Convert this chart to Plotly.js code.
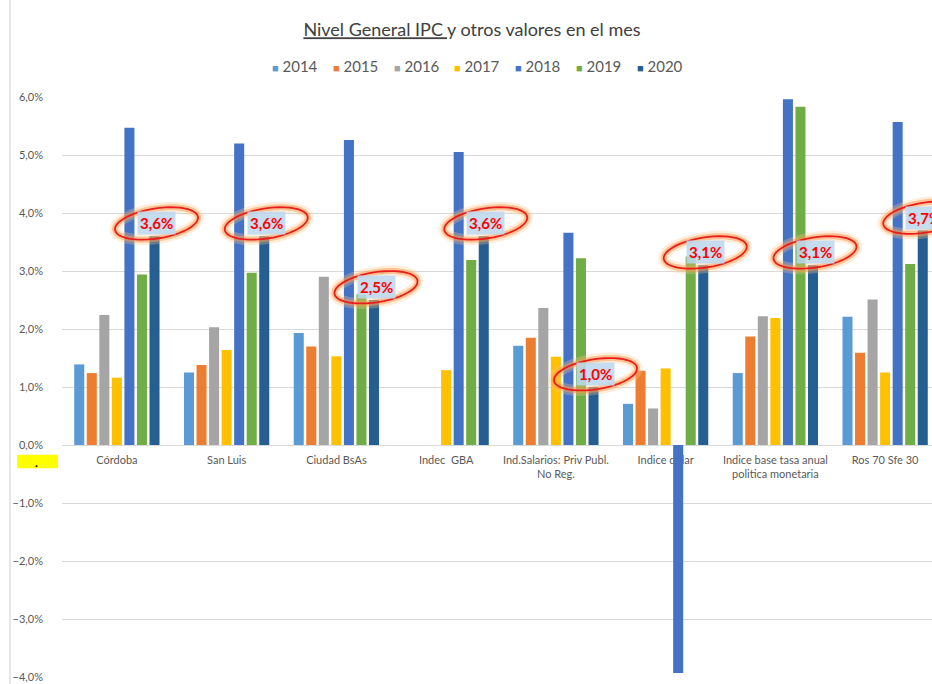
<!DOCTYPE html>
<html>
<head>
<meta charset="utf-8">
<script src="https://cdn.plot.ly/plotly-3.0.1.min.js"></script>
<style>
html,body{margin:0;padding:0;overflow:hidden;background:#fff;}
#chart{width:945px;height:684px;}
</style>
</head>
<body>
<div id="chart"></div>
<script>
const categories = ['Córdoba','San Luis','Ciudad BsAs','Indec\u00a0 GBA','Ind.Salarios: Priv Publ.<br>No Reg.','Indice dólar','Indice base tasa anual<br>politica monetaria','Ros 70 Sfe 30'];
const years = ['2014','2015','2016','2017','2018','2019','2020'];
const v2014 = [1.39,1.25,1.93,null,1.71,0.71,1.24,2.21];
const v2015 = [1.24,1.38,1.70,null,1.85,1.28,1.87,1.59];
const v2016 = [2.24,2.03,2.90,null,2.36,0.63,2.22,2.51];
const v2017 = [1.16,1.64,1.53,1.29,1.52,1.32,2.19,1.25];
const v2018 = [5.47,5.20,5.26,5.05,3.66,-3.93,5.96,5.57];
const v2019 = [2.94,2.97,2.60,3.19,3.22,3.25,5.83,3.12];
const v2020 = [3.6,3.6,2.5,3.6,1.0,3.1,3.1,3.7];
const colors = ['#5B9BD5','#ED7D31','#A5A5A5','#FFC000','#4472C4','#70AD47','#255E91'];

const series = [v2014,v2015,v2016,v2017,v2018,v2019,v2020];
const FONT = 'Lato, "Open Sans", sans-serif';

const W = 945, H = 684, ML = 62, MR = 5, MT = 97, MB = 7;
const PW = W - ML - MR, PH = H - MT - MB;

const traces = series.map((vals,i)=>({
  type:'bar', name:years[i], x:categories, y:vals,
  marker:{color:colors[i], line:{width:0}},
  hoverinfo:'skip', showlegend:false
}));

const bargap = 0.2;
const slot = (1-bargap)/years.length;
const off2020 = (6-3)*slot;

function ellipsePath(a,b,angDeg,dx){
  const t = angDeg*Math.PI/180, n=48; let d='';
  for(let k=0;k<=n;k++){
    const th = 2*Math.PI*k/n;
    const ex = a*Math.cos(th), ey = b*Math.sin(th);
    const px = ex*Math.cos(t) - ey*Math.sin(t) + dx;
    const py = ex*Math.sin(t) + ey*Math.cos(t);
    d += (k===0?'M':'L') + px.toFixed(2)+','+py.toFixed(2);
  }
  return d+'Z';
}

const shapes = [];
const annotations = [];
const ell = ellipsePath(42,15,9,2);
v2020.forEach((v,i)=>{
  const xa = i + off2020, ya = v + 0.22;
  [[11,'rgba(255,200,140,0.30)'],[6,'rgba(255,150,70,0.50)'],[1.8,'#E81E1E']].forEach(([w,c])=>{
    shapes.push({type:'path', xref:'x', yref:'y', xsizemode:'pixel', ysizemode:'pixel',
      xanchor:xa, yanchor:ya, path:ell, line:{color:c,width:w}, fillcolor:'rgba(0,0,0,0)', layer:'above'});
  });
  annotations.push({xref:'x', yref:'y', x:xa, y:ya, xshift:2, showarrow:false,
    text:'<b>'+v.toFixed(1).replace('.',',')+'%</b>',
    font:{family:FONT,size:15,color:'#FF0000'},
    bgcolor:'rgba(190,215,238,0.88)', borderpad:2});
});

// legend row (Excel style, compact)
years.forEach((yr,i)=>{
  const px = 270 + 60.8*i;
  annotations.push({xref:'paper', yref:'paper', x:(px-ML)/PW, y:1+(MT-66)/PH, xanchor:'left', yanchor:'middle',
    showarrow:false, text:'<span style="color:'+colors[i]+';font-size:11px">\u25A0</span> '+yr,
    font:{family:FONT,size:15,color:'#595959'}});
});

// Excel artefacts: chart border and highlighted cell
shapes.push({type:'line', xref:'paper', yref:'paper', xsizemode:'pixel', xanchor:0, x0:-52, x1:-52, y0:-0.05, y1:1.3, line:{color:'#D0D0D0',width:1}});
shapes.push({type:'rect', xref:'paper', yref:'y', xsizemode:'pixel', xanchor:0, x0:-45, x1:-4, y0:-0.40, y1:-0.17, fillcolor:'#FFFF00', line:{width:0}});
annotations.push({xref:'paper', yref:'y', x:0, xshift:-29, y:-0.30, showarrow:false, text:'<b>.</b>', font:{size:12,color:'#000'}});

const layout = {
  width:W, height:H, autosize:false,
  margin:{l:ML, r:MR, t:MT, b:MB, autoexpand:false},
  paper_bgcolor:'#fff', plot_bgcolor:'#fff',
  separators:',.',
  font:{family:FONT, color:'#595959'},
  title:{text:'<u>Nivel General IPC </u>y otros valores en el mes', font:{family:FONT,size:18,color:'#404040'},
    xref:'container', yref:'container', x:472/W, xanchor:'center', y:1-30/H, yanchor:'middle'},
  barmode:'group', bargap:bargap, bargroupgap:0.2,
  showlegend:false,
  xaxis:{type:'category', range:[-0.5, categories.length-0.5], anchor:'free', position:0.4, showgrid:false, showline:false, zeroline:false,
    ticks:'', tickfont:{family:FONT,size:11,color:'#595959'}, layer:'below traces', automargin:false, fixedrange:true, ticklabelstandoff:7},
  yaxis:{range:[-4,6], dtick:1, tickformat:'.1f', ticksuffix:'%', showgrid:true, gridcolor:'#D9D9D9', zeroline:false,
    showline:false, ticks:'', tickfont:{family:FONT,size:11,color:'#595959'}, automargin:false, fixedrange:true, ticklabelstandoff:18},
  shapes:shapes, annotations:annotations,
  hovermode:false
};

Plotly.newPlot('chart', traces, layout, {displayModeBar:false, staticPlot:true});
</script>
</body>
</html>
